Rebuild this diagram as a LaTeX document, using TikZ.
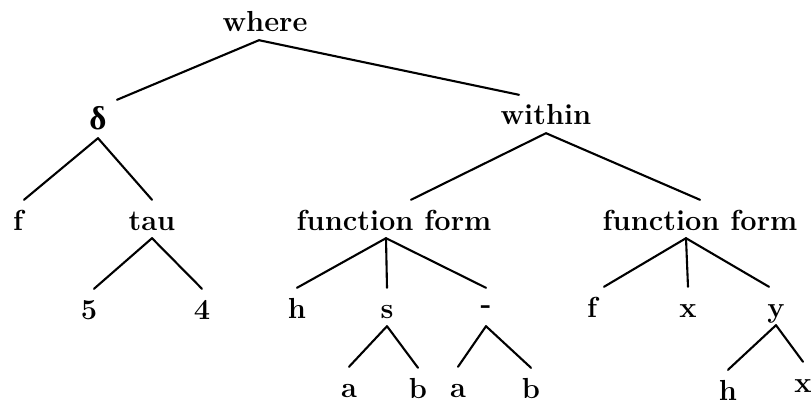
\documentclass[tikz,border=0pt]{standalone}
\usepackage{fontspec}
\newfontfamily\greekfont{Liberation Serif}
\usetikzlibrary{calc}

\begin{document}
\begin{tikzpicture}[x=1pt,y=-1pt,
  lbl/.style={font=\fontsize{29}{34}\selectfont\bfseries,inner sep=0pt,
    text height=30pt,text depth=8pt,anchor=base},
  twig/.style={line width=2.1pt,line cap=round}]
  \useasboundingbox (0,0) rectangle (812,409);
  \node[lbl] (where) at (265,32) {where};
  \node[lbl] (delta) at (98,130) {\greekfont\fontsize{33}{36}\selectfont\bfseries δ};
  \node[lbl] (within) at (546,125) {within};
  \node[lbl] (f1) at (18,230) {f};
  \node[lbl] (tau) at (152,230) {tau};
  \node[lbl] (ffa) at (394,230) {function form};
  \node[lbl] (ffb) at (700,230) {function form};
  \node[lbl] (five) at (89,319) {5};
  \node[lbl] (four) at (202,319) {4};
  \node[lbl] (h1) at (297,318) {h};
  \node[lbl] (s) at (387,318) {s};
  \node[lbl] (minus) at (486,318) {\raisebox{5pt}{-}};
  \node[lbl] (f2) at (592,317) {f};
  \node[lbl] (x1) at (688,317) {x};
  \node[lbl] (y) at (776,317) {y};
  \node[lbl] (a1) at (349,397) {a};
  \node[lbl] (b1) at (418,398) {b};
  \node[lbl] (a2) at (458,397) {a};
  \node[lbl] (b2) at (531,398) {b};
  \node[lbl] (h2) at (728,400) {h};
  \node[lbl] (x2) at (803,392) {x};

  \draw[twig] ([xshift=-6pt]where.south) -- ([xshift=19pt]delta.north);
  \draw[twig] ([xshift=-6pt]where.south) -- ([xshift=-27pt]within.north);
  \draw[twig] (delta.south) -- ([xshift=6pt]f1.north);
  \draw[twig] (delta.south) -- (tau.north);
  \draw[twig] (tau.south) -- ([xshift=5pt]five.north);
  \draw[twig] (tau.south) -- (four.north);
  \draw[twig] (within.south) -- ([xshift=17pt]ffa.north);
  \draw[twig] (within.south) -- (ffb.north);
  \draw[twig] ([xshift=-8pt]ffa.south) -- (h1.north);
  \draw[twig] ([xshift=-8pt]ffa.south) -- (s.north);
  \draw[twig] ([xshift=-8pt]ffa.south) -- (minus.north);
  \draw[twig] (s.south) -- (a1.north);
  \draw[twig] (s.south) -- (b1.north);
  \draw[twig] (minus.south) -- (a2.north);
  \draw[twig] (minus.south) -- (b2.north);
  \draw[twig] ([xshift=-14pt]ffb.south) -- ([xshift=12pt]f2.north);
  \draw[twig] ([xshift=-14pt]ffb.south) -- (x1.north);
  \draw[twig] ([xshift=-14pt]ffb.south) -- ([xshift=-7pt]y.north);
  \draw[twig] (y.south) -- (h2.north);
  \draw[twig] (y.south) -- (x2.north);
\end{tikzpicture}
\end{document}
